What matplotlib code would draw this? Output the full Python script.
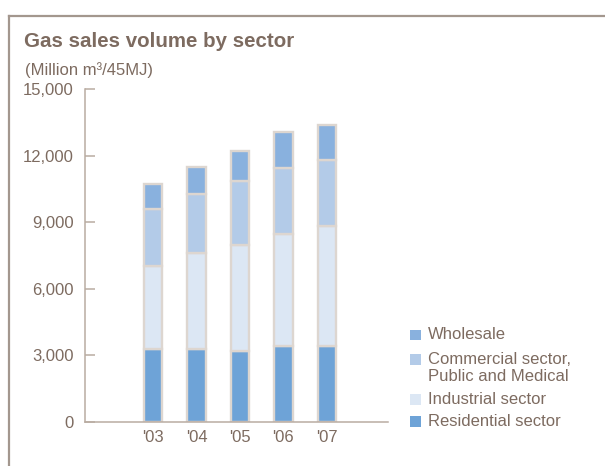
import numpy as np
import matplotlib
matplotlib.use("Agg")
import matplotlib.pyplot as plt
from matplotlib.lines import Line2D
from matplotlib.patches import Rectangle

plt.rcParams['font.family'] = ['Liberation Sans', 'DejaVu Sans']

years = ["'03", "'04", "'05", "'06", "'07"]
residential = [3290, 3280, 3220, 3440, 3430]
industrial = [3750, 4330, 4760, 5040, 5410]
commercial = [2570, 2670, 2870, 2960, 2950]
wholesale = [1130, 1230, 1380, 1650, 1580]

series = [
    ("Residential sector", residential, "#6ea3d7"),
    ("Industrial sector", industrial, "#dce7f4"),
    ("Commercial sector,\nPublic and Medical", commercial, "#b3cbe8"),
    ("Wholesale", wholesale, "#89b1de"),
]

text_col = "#7d6b60"
axis_col = "#b9aca2"
edge_col = "#ddd6d0"

fig = plt.figure(figsize=(6.05, 4.66), dpi=100)
ax = fig.add_axes([0.1397, 0.0944, 0.501, 0.714])

x = np.arange(len(years))
bottom = np.zeros(len(years))
for name, vals, col in series:
    ax.bar(x, vals, bottom=bottom, width=0.42, color=col,
           edgecolor=edge_col, linewidth=1.7, zorder=2)
    bottom += np.array(vals)

ax.set_xlim(-1.58, 5.40)
ax.set_ylim(0, 15000)
ax.set_yticks([0, 3000, 6000, 9000, 12000, 15000])
ax.set_yticklabels(['0', '3,000', '6,000', '9,000', '12,000', '15,000'])
ax.set_xticks(x)
ax.set_xticklabels(years)
ax.tick_params(axis='y', direction='in', length=7, width=1.1, color=axis_col,
               labelcolor=text_col, labelsize=12, pad=8)
ax.tick_params(axis='x', length=0, labelcolor=text_col, labelsize=12, pad=6)
for s in ['top', 'right']:
    ax.spines[s].set_visible(False)
for s in ['left', 'bottom']:
    ax.spines[s].set_color(axis_col)
    ax.spines[s].set_linewidth(1.1)
ax.spines['left'].set_zorder(3)
ax.spines['bottom'].set_zorder(3)

# outer frame: top and left edges
frame_col = "#a3978e"
fig.add_artist(Line2D([8.5 / 605, 1.0], [1 - 16 / 466, 1 - 16 / 466],
                      color=frame_col, linewidth=1.6, transform=fig.transFigure))
fig.add_artist(Line2D([8.5 / 605, 8.5 / 605], [1 - 16 / 466, 0],
                      color=frame_col, linewidth=1.6, transform=fig.transFigure))

fig.text(24 / 605, 1 - 41.5 / 466, "Gas sales volume by sector", fontsize=14.8,
         fontweight='bold', color=text_col, va='center', ha='left')
fig.text(25 / 605, 1 - 70.5 / 466, "(Million m³/45MJ)", fontsize=12,
         color=text_col, va='center', ha='left')

# legend, top entry first
legend_rows = [
    ("Wholesale", "#89b1de", 335),
    ("Commercial sector,\nPublic and Medical", "#b3cbe8", 359.5),
    ("Industrial sector", "#dce7f4", 399.5),
    ("Residential sector", "#6ea3d7", 421.5),
]
for label, col, ypx in legend_rows:
    fig.add_artist(Rectangle((410 / 605, 1 - (ypx + 5) / 466), 10.5 / 605, 10.5 / 466,
                             facecolor=col, edgecolor='none', transform=fig.transFigure))
    fig.text(428 / 605, 1 - (ypx - 8) / 466, label, fontsize=12, color=text_col,
             va='top', ha='left', linespacing=1.2)

fig.savefig("out.png", dpi=100)
